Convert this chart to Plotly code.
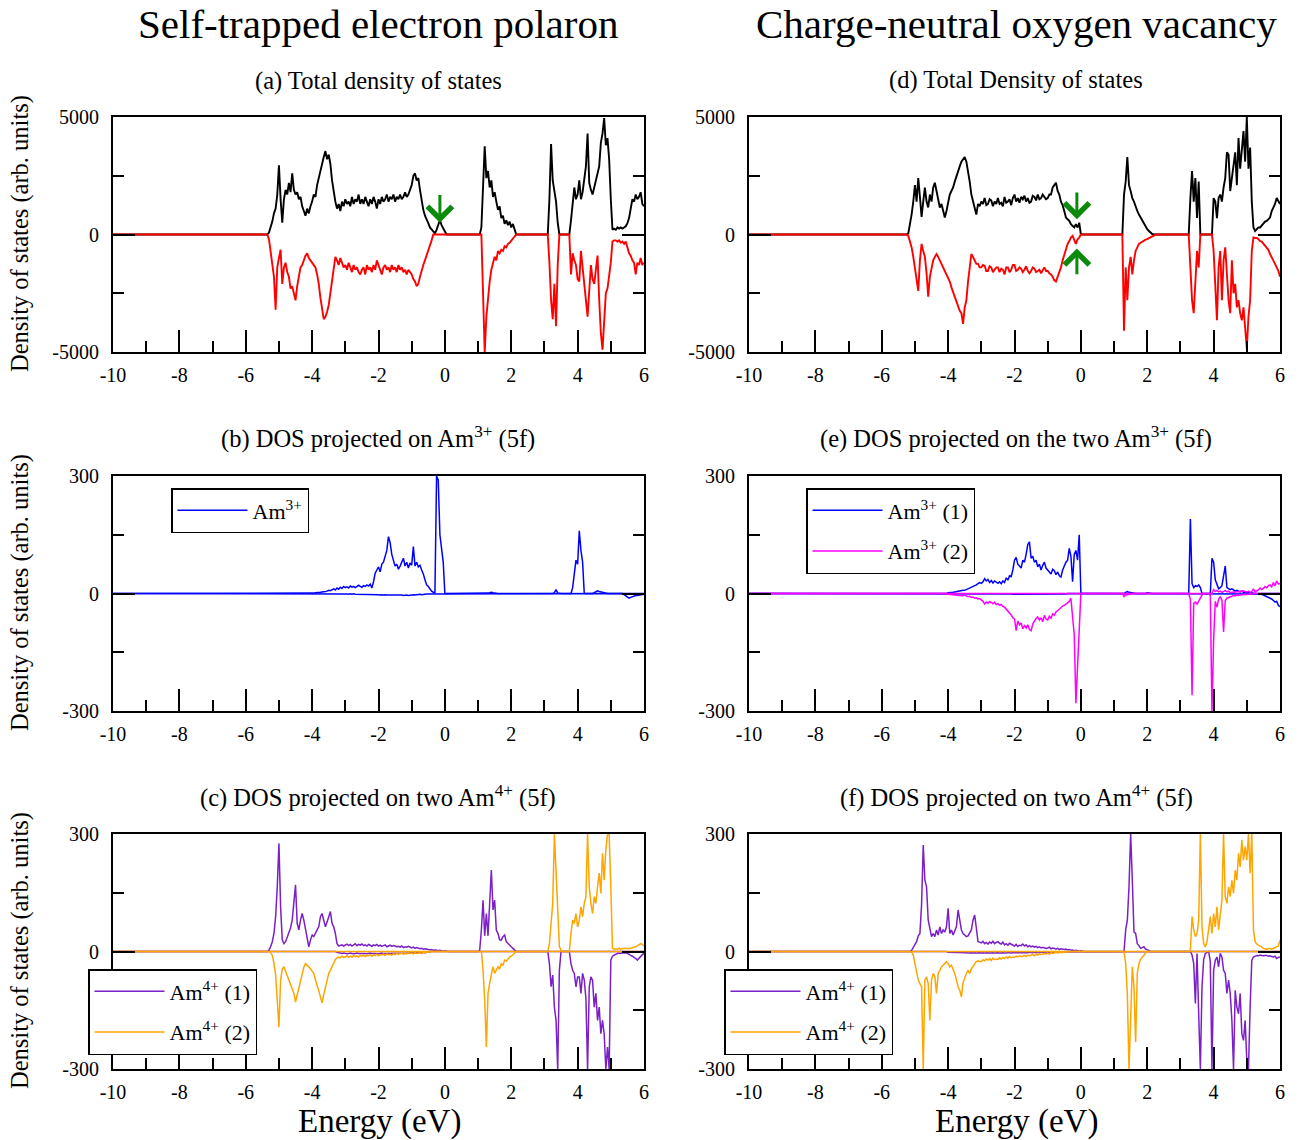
import plotly.graph_objects as go

FONT = "Liberation Serif"

# ---------------- data (energy grid in eV; first point -10 eV baseline) ----------------
ENERGY = [-10.0] + [round(-5.5 + 0.05 * i, 2) for i in range(231)]

X_TICKS = [-10, -8, -6, -4, -2, 0, 2, 4, 6]
X_TICK_TEXT = ["-10", "-8", "-6", "-4", "-2", "0", "2", "4", "6"]
X_MINOR = [-9, -7, -5, -3, -1, 1, 3, 5]
X_TOP = [-9, -8, -7, -6, -5, -4, -3, -2, -1, 0, 1, 2, 3, 4, 5]

TOT_TICKS = [-5000, 0, 5000]
TOT_TICK_TEXT = ["-5000", "0", "5000"]
TOT_MINOR = [-2500, 2500]
PDOS_TICKS = [-300, 0, 300]
PDOS_TICK_TEXT = ["-300", "0", "300"]
PDOS_MINOR = [-150, 150]

# (a) total DOS, self-trapped polaron
TOT_A_UP = [0,
    0, 0, 0, 0, 80, 300, 550, 900, 1100, 1700, 2950, 1500, 500, 1500, 1900, 1700, 2200, 1800, 2600, 1900,
    1700, 1800, 1500, 1600, 1200, 1000, 800, 1100, 900, 1200, 1400, 1700, 1600, 2100, 2400, 2700, 3100, 3300, 3550, 3200,
    3400, 3000, 2300, 1800, 1400, 1100, 1300, 1000, 1400, 1200, 1500, 1300, 1400, 1200, 1600, 1300, 1500, 1400, 1700, 1300,
    1500, 1300, 1600, 1400, 1200, 1500, 1300, 1600, 1400, 1100, 1500, 1300, 1600, 1400, 1500, 1700, 1400, 1600, 1500, 1700,
    1400, 1600, 1500, 1700, 1500, 1600, 1800, 1600, 1700, 1900, 2100, 2500, 2600, 2300, 2400, 1900, 1400, 1050, 800, 600,
    480, 300, 200, 120, 50, 200, 450, 620, 400, 250, 80, 0, 0, 0, 0, 0, 0, 0, 0, 0,
    0, 0, 0, 0, 0, 0, 0, 0, 0, 0, 0, 0, 300, 1800, 3750, 2400, 2700, 2000, 2300, 1600,
    1800, 1400, 1050, 1200, 700, 800, 450, 600, 400, 550, 300, 450, 200, 0, 0, 0, 0, 0, 0, 0,
    0, 0, 0, 0, 0, 0, 0, 0, 0, 0, 0, 0, 0, 1500, 3850, 2300, 1900, 1400, 500, 0,
    0, 0, 0, 0, 0, 0, 600, 1400, 2000, 1500, 1700, 2300, 1500, 1800, 2500, 2900, 4300, 2200, 1900, 1700,
    2000, 2300, 2600, 2900, 3900, 4300, 4950, 3800, 4100, 3200, 1500, 200, 250, 200, 300, 250, 300, 250, 300, 350,
    480, 700, 1100, 1500, 1400, 1700, 1500, 1600, 1800, 1300, 1200]
TOT_A_DN = [0,
    0, 0, 0, 0, -200, -700, -1200, -1800, -3200, -1400, -1000, -650, -2100, -1400, -1200, -1600, -1800, -2300, -2200, -2500,
    -2800, -2200, -1800, -1400, -1300, -1100, -900, -800, -1000, -1100, -1200, -1300, -1400, -1700, -2100, -2700, -3200, -3600, -3500, -3300,
    -3000, -2500, -2100, -1500, -950, -1100, -1300, -1000, -1200, -1400, -1300, -1500, -1200, -1400, -1600, -1300, -1500, -1400, -1600, -1700,
    -1500, -1400, -1700, -1300, -1500, -1400, -1600, -1300, -1500, -1100, -1300, -1500, -1700, -1400, -1300, -1500, -1400, -1600, -1300, -1500,
    -1400, -1600, -1300, -1500, -1400, -1600, -1500, -1700, -1500, -1600, -1700, -1900, -2000, -2200, -2100, -1800, -1500, -1300, -1100, -900,
    -700, -450, -250, 0, 0, 0, 0, 0, 0, 0, 0, 0, 0, 0, 0, 0, 0, 0, 0, 0,
    0, 0, 0, 0, 0, 0, 0, 0, 0, 0, 0, 0, 0, -2500, -5000, -3500, -2700, -2000, -1500, -1200,
    -950, -1100, -700, -800, -650, -700, -500, -550, -400, -350, -250, -200, -100, 0, 0, 0, 0, 0, 0, 0,
    0, 0, 0, 0, 0, 0, 0, 0, 0, 0, 0, 0, 0, -1200, -2800, -3600, -2100, -3900, -1300, 0,
    0, 0, 0, 0, 0, 0, -1700, -800, -1100, -1300, -1900, -2000, -700, -1500, -2200, -2800, -3500, -2600, -1300, -1900,
    -2100, -1500, -900, -2800, -4200, -4900, -3700, -2500, -2300, -1800, -1200, -300, -250, -250, -300, -250, -350, -300, -400, -300,
    -550, -800, -900, -1100, -1200, -1700, -1200, -1300, -1000, -1300, -1200]

# (d) total DOS, neutral oxygen vacancy
TOT_D_UP = [0,
    0, 0, 0, 0, 0, 0, 50, 430, 860, 1400, 2100, 1400, 2400, 1600, 750, 1400, 2000, 1400, 1150, 1700,
    1400, 2000, 2200, 1850, 1400, 1150, 1300, 1000, 720, 1000, 1400, 1700, 1850, 2000, 2250, 2500, 2700, 2900, 3100, 3200,
    3300, 3100, 2700, 2250, 1700, 1400, 1150, 850, 1300, 1200, 1400, 1300, 1550, 1250, 1300, 1500, 1450, 1200, 1400, 1300,
    1550, 1300, 1350, 1200, 1600, 1350, 1400, 1500, 1250, 1550, 1700, 1400, 1550, 1350, 1600, 1500, 1650, 1400, 1550, 1350,
    1400, 1650, 1600, 1450, 1700, 1500, 1550, 1700, 1600, 1500, 1550, 1700, 1700, 2000, 2100, 2200, 1850, 1700, 1400, 1250,
    1000, 720, 650, 580, 440, 360, 300, 440, 300, 500, 0, 0, 0, 0, 0, 0, 0, 0, 0, 0,
    0, 0, 0, 0, 0, 0, 0, 0, 0, 0, 0, 0, 0, 0, 0, 0, 1700, 2250, 3300, 2100,
    1850, 1550, 1400, 1150, 1000, 850, 720, 580, 450, 300, 230, 150, 80, 20, 0, 0, 0, 0, 0, 0,
    0, 0, 0, 0, 0, 0, 0, 0, 0, 0, 0, 0, 0, 0, 0, 0, 1550, 2700, 1400, 2400,
    700, 2250, 0, 0, 0, 0, 0, 0, 0, 0, 1550, 1400, 700, 1550, 1700, 1400, 2000, 2400, 3500, 3400,
    1850, 2400, 2950, 3500, 2100, 4100, 2800, 3500, 4400, 3100, 5000, 2800, 3700, 1400, 300, 150, 220, 300, 300, 400,
    450, 550, 580, 650, 720, 1000, 1150, 1300, 1550, 1400, 1300]
TOT_D_DN = [0,
    0, 0, 0, 0, 0, 0, -50, -280, -550, -950, -1400, -1950, -2400, -1100, -400, -700, -950, -1650, -2650, -1800,
    -1500, -1100, -950, -830, -950, -1100, -1250, -1400, -1500, -1650, -1800, -2000, -2250, -2450, -2650, -2900, -3050, -3250, -3350, -3800,
    -3100, -2800, -2000, -1250, -830, -950, -1100, -1250, -1250, -1400, -1400, -1300, -1330, -1550, -1550, -1350, -1400, -1600, -1500, -1400,
    -1400, -1600, -1450, -1500, -1700, -1400, -1400, -1600, -1500, -1300, -1300, -1550, -1500, -1400, -1450, -1600, -1500, -1350, -1550, -1650,
    -1550, -1400, -1450, -1600, -1550, -1500, -1650, -1500, -1400, -1550, -1550, -1650, -1700, -1800, -1950, -2000, -1800, -1650, -1400, -1100,
    -830, -550, -400, -280, -130, -60, -200, -400, -200, -130, 0, 0, 0, 0, 0, 0, 0, 0, 0, 0,
    0, 0, 0, 0, 0, 0, 0, 0, 0, 0, 0, 0, 0, 0, 0, 0, -4100, -1400, -2800, -1400,
    -950, -1700, -1100, -700, -550, -400, -350, -300, -280, -220, -200, -150, -130, -80, -50, 0, 0, 0, 0, 0,
    0, 0, 0, 0, 0, 0, 0, 0, 0, 0, 0, 0, 0, 0, 0, 0, -1400, -2800, -3350, -2100,
    -700, -1400, 0, 0, 0, 0, 0, 0, 0, 0, -700, -2100, -3650, -1400, -700, -2800, -1100, -550, -1700, -2800,
    -3350, -1100, -2500, -2100, -3100, -2800, -3350, -3650, -3100, -4200, -4850, -3500, -2800, -700, -130, -150, -150, -200, -280, -300,
    -400, -450, -550, -650, -830, -950, -1100, -1250, -1400, -1550, -1800]

# (b) Am3+ 5f, polaron
AM3_B_UP = [0,
    0, 0, 0, 0, 0, 0, 0, 0, 0, 0, 0, 0, 0, 0, 0, 0, 0, 0, 0, 0,
    0, 0, 0, 0, 0, 0, 0, 0, 0, 0, 1, 1, 2, 2, 3, 3, 4, 4, 5, 6,
    8, 7, 10, 12, 9, 14, 11, 16, 13, 18, 15, 17, 14, 19, 16, 18, 15, 17, 21, 18,
    16, 20, 18, 22, 19, 24, 14, 30, 52, 60, 68, 55, 75, 80, 95, 110, 145, 130, 100, 85,
    70, 75, 62, 70, 82, 90, 70, 80, 65, 78, 72, 120, 70, 80, 68, 72, 60, 50, 35, 22,
    18, 10, 6, 3, 2, 300, 290, 150, 120, 80, 0, 0, 0, 0, 0, 0, 0, 0, 0, 0,
    0, 0, 0, 0, 0, 0, 0, 0, 0, 0, 0, 0, 0, 0, 0, 0, 1, 2, 3, 2,
    1, 0, 0, 0, 0, 0, 0, 0, 0, 0, 0, 0, 0, 0, 0, 0, 0, 0, 0, 0,
    0, 0, 0, 0, 0, 0, 0, 0, 0, 0, 0, 0, 0, 0, 0, 0, 2, 10, 1, 0,
    0, 0, 0, 0, 0, 0, 0, 15, 60, 85, 75, 160, 110, 80, 0, 0, 0, 0, 0, 0,
    2, 4, 7, 5, 4, 2, 1, 0, 0, 0, 0, 0, 0, 0, 0, 0, 0, 0, 0, 0,
    0, 0, 0, 0, 0, 0, 0, 0, 0, 0, 0]
AM3_B_DN = [0,
    0, 0, 0, 0, 0, 0, 0, 0, 0, 0, 0, 0, 0, 0, 0, 0, 0, 0, 0, 0,
    0, 0, 0, 0, 0, 0, 0, 0, 0, 0, 0, 0, 0, 0, 0, 0, 0, 0, 0, 0,
    0, 0, -1, 0, -1, -1, 0, -1, -1, -1, -1, -1, -2, -1, -2, -1, -2, -2, -2, -2,
    -2, -2, -3, -2, -3, -2, -3, -3, -3, -3, -3, -4, -3, -4, -3, -4, -4, -3, -4, -4,
    -4, -4, -3, -4, -4, -5, -4, -4, -5, -4, -4, -3, -4, -3, -3, -2, -3, -2, -2, -1,
    -1, -1, 0, 0, 0, 0, 0, 0, 0, 0, 0, 0, 0, 0, 0, 0, 0, 0, 0, 0,
    0, 0, 0, 0, 0, 0, 0, 0, 0, 0, 0, 0, 0, 0, 0, 0, 0, 0, 0, 0,
    0, 0, 0, 0, 0, 0, 0, 0, 0, 0, 0, 0, 0, 0, 0, 0, 0, 0, 0, 0,
    0, 0, 0, 0, 0, 0, 0, 0, 0, 0, 0, 0, 0, 0, 0, 0, 0, 0, 0, 0,
    0, 0, 0, 0, 0, 0, 0, 0, 0, 0, 0, 0, 0, 0, 0, 0, 0, 0, 0, 0,
    0, 0, 0, 0, 0, 0, 0, 0, 0, 0, 0, 0, 0, 0, 0, 0, 0, 0, -3, -6,
    -9, -12, -10, -8, -6, -5, -5, -4, -3, -2, -2]

# (e) two Am3+ 5f, oxygen vacancy
AM3_E1_UP = [0,
    0, 0, 0, 0, 0, 0, 0, 0, 0, 0, 0, 0, 0, 0, 0, 0, 0, 0, 0, 0,
    0, 0, 0, 0, 0, 0, 0, 0, 0, 0, 2, 2, 3, 3, 4, 5, 5, 6, 7, 8,
    8, 10, 12, 14, 15, 17, 18, 22, 25, 28, 26, 30, 38, 32, 36, 28, 33, 27, 32, 29,
    26, 30, 25, 32, 28, 40, 34, 45, 43, 60, 85, 92, 75, 70, 65, 85, 80, 100, 125, 132,
    90, 95, 80, 85, 68, 75, 60, 72, 80, 65, 60, 55, 50, 62, 58, 48, 55, 45, 42, 60,
    70, 80, 85, 115, 95, 30, 100, 110, 85, 150, 0, 0, 0, 0, 0, 0, 0, 0, 0, 0,
    0, 0, 0, 0, 0, 0, 0, 0, 0, 0, 0, 0, 0, 0, 0, 0, 0, 3, 5, 3,
    2, 1, 0, 0, 0, 0, 0, 0, 0, 0, 2, 1, 0, 0, 0, 0, 0, 0, 0, 0,
    0, 0, 0, 0, 0, 0, 0, 0, 0, 0, 0, 0, 0, 0, 0, 0, 190, 25, 15, 20,
    18, 22, 15, 0, 0, 0, 0, 0, 0, 90, 80, 35, 25, 12, 15, 20, 45, 70, 15, 12,
    10, 12, 8, 6, 8, 5, 4, 6, 3, 4, 2, 3, 2, 2, 1, 0, 0, 0, 0, 0,
    0, 0, 0, 0, 0, 0, 0, 0, 0, 0, 0]
AM3_E1_DN = [0,
    0, 0, 0, 0, 0, 0, 0, 0, 0, 0, 0, 0, 0, 0, 0, 0, 0, 0, 0, 0,
    0, 0, 0, 0, 0, 0, 0, 0, 0, 0, 0, 0, 0, 0, 0, 0, 0, 0, 0, 0,
    0, 0, 0, 0, 0, 0, 0, 0, 0, 0, 0, 0, 0, 0, 0, 0, 0, 0, 0, 0,
    0, 0, 0, 0, 0, -1, -1, -1, -1, -2, -2, -2, -2, -2, -2, -2, -2, -2, -2, -2,
    -2, -2, -2, -2, -2, -2, -2, -2, -2, -2, -2, -2, -2, -2, -2, -2, -2, -2, -2, -1,
    -1, -1, 0, 0, 0, 0, 0, 0, 0, 0, 0, 0, 0, 0, 0, 0, 0, 0, 0, 0,
    0, 0, 0, 0, 0, 0, 0, 0, 0, 0, 0, 0, 0, 0, 0, 0, 0, 0, 0, 0,
    0, 0, 0, 0, 0, 0, 0, 0, 0, 0, 0, 0, 0, 0, 0, 0, 0, 0, 0, 0,
    0, 0, 0, 0, 0, 0, 0, 0, 0, 0, 0, 0, 0, 0, 0, 0, 0, 0, 0, 0,
    0, 0, 0, 0, 0, 0, 0, 0, 0, 0, 0, 0, 0, 0, 0, 0, 0, 0, 0, 0,
    0, 0, 0, 0, 0, 0, 0, 0, 0, 0, 0, 0, 0, 0, 0, 0, 0, 0, -1, -2,
    -4, -5, -6, -8, -10, -14, -18, -22, -20, -30, -34]
AM3_E2_DN = [0,
    0, 0, 0, 0, 0, 0, 0, 0, 0, 0, 0, 0, 0, 0, 0, 0, 0, 0, 0, 0,
    0, 0, 0, 0, 0, 0, 0, 0, 0, 0, -2, -2, -3, -3, -4, -4, -5, -5, -6, -6,
    -4, -6, -8, -7, -10, -9, -12, -11, -14, -13, -16, -20, -27, -22, -25, -21, -23, -26, -22, -28,
    -26, -30, -28, -33, -35, -40, -45, -48, -55, -62, -65, -95, -70, -80, -75, -90, -82, -88, -80, -92,
    -95, -78, -70, -64, -60, -68, -62, -72, -56, -65, -68, -58, -63, -52, -55, -47, -44, -40, -34, -32,
    -30, -28, -24, -20, -12, -60, -105, -280, -170, -60, 0, 0, 0, 0, 0, 0, 0, 0, 0, 0,
    0, 0, 0, 0, 0, 0, 0, 0, 0, 0, 0, 0, 0, 0, 0, 0, -8, -4, -3, -2,
    -1, 0, 0, 0, 0, 0, 0, 0, 0, 0, 0, 0, 0, 0, 0, 0, 0, 0, 0, 0,
    0, 0, 0, 0, 0, 0, 0, 0, 0, 0, 0, 0, 0, 0, 0, 0, -15, -260, -25, -22,
    -27, -18, -10, -4, 0, 0, 0, 0, -5, -300, -120, -20, -35, -15, -8, -17, -98, -18, -12, -10,
    -8, -7, -5, -6, -4, -5, -3, -4, -2, -3, -2, -2, -1, -1, 0, 0, 0, 0, 0, 0,
    0, 0, 0, 0, 0, 0, 0, 0, 0, 0, 0]
AM3_E2_UP = [0,
    0, 0, 0, 0, 0, 0, 0, 0, 0, 0, 0, 0, 0, 0, 0, 0, 0, 0, 0, 0,
    0, 0, 0, 0, 0, 0, 0, 0, 0, 0, 0, 0, 0, 0, 0, 0, 0, 0, 0, 0,
    0, 0, 0, 0, 0, 0, 0, 0, 0, 0, 0, 0, 0, 0, 0, 0, 0, 0, 0, 0,
    0, 0, 0, 0, 0, 0, 0, 0, 0, 0, 0, 0, 0, 0, 0, 0, 0, 0, 0, 0,
    0, 0, 0, 0, 0, 0, 0, 0, 0, 0, 0, 0, 0, 0, 0, 0, 0, 0, 0, 0,
    0, 0, 0, 0, 0, 0, 0, 0, 0, 0, 0, 0, 0, 0, 0, 0, 0, 0, 0, 0,
    0, 0, 0, 0, 0, 0, 0, 0, 0, 0, 0, 0, 0, 0, 0, 0, 0, 0, 0, 0,
    0, 0, 0, 0, 0, 0, 0, 0, 0, 0, 0, 0, 0, 0, 0, 0, 0, 0, 0, 0,
    0, 0, 0, 0, 0, 0, 0, 0, 0, 0, 0, 0, 0, 0, 0, 0, 0, 0, 0, 0,
    0, 0, 0, 0, 0, 0, 0, 0, 0, 0, 10, 5, 8, 4, 6, 3, 5, 8, 4, 6,
    2, 3, 4, 3, 5, 4, 6, 5, 7, 5, 4, 6, 3, 5, 12, 4, 6, 9, 14, 10,
    13, 18, 15, 20, 22, 17, 28, 20, 32, 24, 26]

# (c) two Am4+ 5f, polaron
AM4_C1_UP = [0,
    0, 0, 0, 0, 4, 12, 25, 46, 89, 165, 276, 114, 30, 20, 25, 35, 46, 60, 80, 123,
    170, 72, 55, 80, 97, 80, 55, 38, 12, 29, 42, 38, 45, 55, 63, 89, 97, 80, 63, 75,
    89, 102, 72, 63, 46, 20, 14, 15, 17, 14, 16, 19, 15, 18, 14, 17, 20, 15, 18, 16,
    19, 15, 17, 14, 18, 16, 13, 17, 15, 18, 14, 16, 13, 15, 17, 12, 14, 16, 13, 15,
    14, 12, 13, 11, 14, 10, 12, 11, 13, 10, 9, 11, 8, 10, 9, 7, 8, 6, 7, 5,
    5, 4, 5, 3, 4, 3, 2, 3, 2, 1, 2, 0, 0, 0, 0, 0, 0, 0, 0, 0,
    0, 0, 0, 0, 0, 0, 0, 0, 0, 0, 0, 4, 55, 131, 40, 97, 40, 123, 208, 106,
    131, 55, 46, 30, 29, 38, 42, 25, 20, 15, 12, 8, 4, 0, 0, 0, 0, 0, 0, 0,
    0, 0, 0, 0, 0, 0, 0, 0, 0, 0, 0, 0, 0, 0, 0, 0, 0, 0, 0, 0,
    0, 0, 0, 0, 0, 0, 0, 0, 0, 0, 0, 0, 0, 0, 0, 0, 0, 0, 0, 0,
    0, 0, 0, 0, 0, 0, 0, 0, 0, 0, 0, 0, 0, 0, 0, 0, 0, 0, 0, 0,
    0, 0, 0, 0, 0, 0, 0, 0, 0, 0, 0]
AM4_C1_DN = [0,
    0, 0, 0, 0, 0, 0, 0, 0, 0, 0, 0, 0, 0, 0, 0, 0, 0, 0, 0, 0,
    0, 0, 0, 0, 0, 0, 0, 0, 0, 0, 0, 0, 0, 0, 0, 0, 0, 0, 0, 0,
    0, 0, 0, 0, 0, -2, -3, -4, -5, -4, -5, -6, -5, -4, -5, -6, -5, -4, -5, -5,
    -5, -4, -5, -6, -5, -4, -5, -5, -4, -5, -6, -5, -4, -5, -5, -4, -5, -4, -5, -4,
    -5, -4, -4, -5, -4, -4, -5, -4, -3, -4, -4, -3, -4, -3, -3, -4, -3, -2, -3, -2,
    -2, -1, 0, 0, 0, 0, 0, 0, 0, 0, 0, 0, 0, 0, 0, 0, 0, 0, 0, 0,
    0, 0, 0, 0, 0, 0, 0, 0, 0, 0, 0, 0, 0, 0, 0, 0, 0, 0, 0, 0,
    0, 0, 0, 0, 0, 0, 0, 0, 0, 0, 0, 0, 0, 0, 0, 0, 0, 0, 0, 0,
    0, 0, 0, 0, 0, 0, 0, 0, 0, 0, 0, 0, 0, -31, -90, -60, -142, -176, -300, -48,
    0, 0, 0, 0, 0, 0, -31, -48, -56, -90, -65, -65, -107, -56, -73, -120, -300, -90, -65, -73,
    -142, -107, -176, -142, -210, -176, -210, -300, -244, -300, -22, -12, -9, -6, -5, -4, -5, -3, -4, -3,
    -6, -8, -10, -12, -14, -18, -22, -17, -14, -8, -5]
AM4_C2_DN = [0,
    0, 0, 0, 0, 0, -3, -10, -30, -60, -125, -193, -73, -45, -39, -50, -65, -75, -85, -95, -107,
    -129, -110, -90, -73, -56, -40, -31, -35, -39, -44, -50, -56, -73, -85, -100, -116, -131, -110, -90, -73,
    -56, -48, -39, -28, -20, -16, -14, -16, -12, -15, -14, -11, -15, -12, -14, -10, -13, -11, -14, -10,
    -12, -9, -13, -10, -11, -8, -12, -9, -10, -7, -11, -8, -9, -7, -10, -6, -8, -7, -9, -6,
    -8, -5, -7, -6, -4, -7, -5, -6, -3, -5, -4, -6, -3, -5, -4, -3, -5, -2, -3, -2,
    -1, 0, 0, 0, 0, 0, 0, 0, 0, 0, 0, 0, 0, 0, 0, 0, 0, 0, 0, 0,
    0, 0, 0, 0, 0, 0, 0, 0, 0, 0, 0, 0, 0, -48, -125, -244, -107, -80, -56, -39,
    -56, -48, -39, -45, -31, -35, -22, -25, -18, -14, -12, -8, -3, 0, 0, 0, 0, 0, 0, 0,
    0, 0, 0, 0, 0, 0, 0, 0, 0, 0, 0, 0, 0, 0, 0, 0, 0, 0, 0, 0,
    0, 0, 0, 0, 0, 0, 0, 0, 0, 0, 0, 0, 0, 0, 0, 0, 0, 0, 0, 0,
    0, 0, 0, 0, 0, 0, 0, 0, 0, 0, 0, 0, 0, 0, 0, 0, 0, 0, 0, 0,
    0, 0, 0, 0, 0, 0, 0, 0, 0, 0, 0]
AM4_C2_UP = [0,
    0, 0, 0, 0, 0, 0, 0, 0, 0, 0, 0, 0, 0, 0, 0, 0, 0, 0, 0, 0,
    0, 0, 0, 0, 0, 0, 0, 0, 0, 0, 0, 0, 0, 0, 0, 0, 0, 0, 0, 0,
    0, 0, 0, 0, 0, 0, 0, 0, 0, 0, 0, 0, 0, 0, 0, 0, 0, 0, 0, 0,
    0, 0, 0, 0, 0, 0, 0, 0, 0, 0, 0, 0, 0, 0, 0, 0, 0, 0, 0, 0,
    0, 0, 0, 0, 0, 0, 0, 0, 0, 0, 0, 0, 0, 0, 0, 0, 0, 0, 0, 0,
    0, 0, 0, 0, 0, 0, 0, 0, 0, 0, 0, 0, 0, 0, 0, 0, 0, 0, 0, 0,
    0, 0, 0, 0, 0, 0, 0, 0, 0, 0, 0, 0, 0, 0, 0, 0, 0, 0, 0, 0,
    0, 0, 0, 0, 0, 0, 0, 0, 0, 0, 0, 0, 0, 0, 0, 0, 0, 0, 0, 0,
    0, 0, 0, 0, 0, 0, 0, 0, 0, 0, 0, 0, 0, 20, 63, 123, 300, 208, 97, 12,
    4, 0, 0, 0, 0, 0, 46, 80, 72, 97, 63, 80, 114, 89, 123, 140, 300, 165, 123, 97,
    140, 123, 165, 200, 148, 251, 182, 259, 300, 300, 165, 8, 6, 7, 6, 8, 6, 7, 8, 7,
    8, 7, 9, 10, 11, 12, 14, 16, 20, 18, 15]

# (f) two Am4+ 5f, oxygen vacancy
AM4_F1_UP = [0,
    0, 0, 0, 0, 0, 0, 0, 0, 3, 10, 18, 25, 40, 46, 120, 272, 182, 165, 80, 55,
    38, 46, 38, 55, 42, 63, 46, 55, 50, 63, 110, 46, 55, 42, 55, 63, 106, 80, 55, 46,
    42, 38, 40, 46, 55, 80, 93, 60, 25, 24, 22, 26, 20, 23, 19, 24, 21, 26, 20, 23,
    25, 21, 19, 24, 17, 20, 16, 21, 18, 15, 14, 18, 13, 16, 15, 19, 14, 17, 12, 15,
    12, 14, 11, 13, 10, 12, 9, 11, 10, 8, 9, 11, 7, 9, 8, 6, 8, 5, 7, 6,
    5, 6, 4, 5, 3, 4, 2, 3, 2, 1, 2, 0, 0, 0, 0, 0, 0, 0, 0, 0,
    0, 0, 0, 0, 0, 0, 0, 0, 0, 0, 0, 0, 0, 0, 0, 0, 0, 55, 80, 165,
    300, 182, 50, 46, 20, 15, 8, 10, 12, 6, 5, 3, 0, 0, 0, 0, 0, 0, 0, 0,
    0, 0, 0, 0, 0, 0, 0, 0, 0, 0, 0, 0, 0, 0, 0, 0, 0, 0, 0, 0,
    0, 0, 0, 0, 0, 0, 0, 0, 0, 0, 0, 0, 0, 0, 0, 0, 0, 0, 0, 0,
    0, 0, 0, 0, 0, 0, 0, 0, 0, 0, 0, 0, 0, 0, 0, 0, 0, 0, 0, 0,
    0, 0, 0, 0, 0, 0, 0, 0, 0, 0, 0]
AM4_F1_DN = [0,
    0, 0, 0, 0, 0, 0, 0, 0, 0, 0, 0, 0, 0, 0, 0, 0, 0, 0, 0, 0,
    0, 0, 0, 0, 0, 0, 0, 0, 0, 0, -2, -2, -3, -2, -3, -3, -2, -3, -3, -3,
    -3, -3, -4, -3, -3, -4, -3, -4, -3, -3, -4, -3, -4, -3, -3, -4, -3, -3, -4, -3,
    -3, -4, -3, -3, -4, -3, -3, -3, -4, -3, -3, -3, -3, -4, -3, -3, -3, -3, -3, -2,
    -3, -3, -2, -3, -2, -3, -2, -2, -3, -2, -2, -2, -2, -2, -2, -2, -1, -2, -1, -1,
    -1, 0, 0, 0, 0, 0, 0, 0, 0, 0, 0, 0, 0, 0, 0, 0, 0, 0, 0, 0,
    0, 0, 0, 0, 0, 0, 0, 0, 0, 0, 0, 0, 0, 0, 0, 0, 0, 0, 0, 0,
    0, 0, 0, 0, 0, 0, 0, 0, 0, 0, 0, 0, 0, 0, 0, 0, 0, 0, 0, 0,
    0, 0, 0, 0, 0, 0, 0, 0, 0, 0, 0, 0, 0, 0, 0, 0, 0, -9, -31, -133,
    -5, -159, -300, -90, -20, -5, -3, 0, -26, -300, -48, -22, -14, -39, -5, -14, -48, -56, -107, -73,
    -107, -176, -300, -99, -142, -159, -107, -210, -227, -176, -278, -300, -142, -22, -14, -12, -10, -11, -9, -10,
    -11, -10, -10, -12, -11, -13, -14, -12, -18, -15, -14]
AM4_F2_DN = [0,
    0, 0, 0, 0, 0, 0, 0, 0, -2, -9, -31, -56, -73, -82, -90, -300, -73, -65, -82, -176,
    -73, -56, -65, -107, -56, -48, -39, -35, -31, -26, -31, -39, -35, -44, -56, -73, -90, -99, -116, -80,
    -65, -56, -48, -56, -44, -39, -31, -26, -24, -25, -26, -21, -24, -19, -22, -18, -23, -17, -21, -19,
    -20, -16, -19, -15, -18, -14, -17, -13, -16, -15, -15, -12, -14, -11, -13, -12, -10, -13, -9, -11,
    -10, -8, -11, -7, -9, -6, -8, -7, -5, -6, -4, -7, -3, -5, -4, -2, -4, -3, -2, -3,
    -1, -2, -1, 0, 0, 0, 0, 0, 0, 0, 0, 0, 0, 0, 0, 0, 0, 0, 0, 0,
    0, 0, 0, 0, 0, 0, 0, 0, 0, 0, 0, 0, 0, 0, 0, 0, 0, -31, -107, -300,
    -150, -39, -90, -231, -56, -31, -20, -14, -8, -4, 0, 0, 0, 0, 0, 0, 0, 0, 0, 0,
    0, 0, 0, 0, 0, 0, 0, 0, 0, 0, 0, 0, 0, 0, 0, 0, 0, 0, 0, 0,
    0, 0, 0, 0, 0, 0, 0, 0, 0, 0, 0, 0, 0, 0, 0, 0, 0, 0, 0, 0,
    0, 0, 0, 0, 0, 0, 0, 0, 0, 0, 0, 0, 0, 0, 0, 0, 0, 0, 0, 0,
    0, 0, 0, 0, 0, 0, 0, 0, 0, 0, 0]
AM4_F2_UP = [0,
    0, 0, 0, 0, 0, 0, 0, 0, 0, 0, 0, 0, 0, 0, 0, 0, 0, 0, 0, 0,
    0, 0, 0, 0, 0, 0, 0, 0, 0, 0, 0, 0, 0, 0, 0, 0, 0, 0, 0, 0,
    0, 0, 0, 0, 0, 0, 0, 0, 0, 0, 0, 0, 0, 0, 0, 0, 0, 0, 0, 0,
    0, 0, 0, 0, 0, 0, 0, 0, 0, 0, 0, 0, 0, 0, 0, 0, 0, 0, 0, 0,
    0, 0, 0, 0, 0, 0, 0, 0, 0, 0, 0, 0, 0, 0, 0, 0, 0, 0, 0, 0,
    0, 0, 0, 0, 0, 0, 0, 0, 0, 0, 0, 0, 0, 0, 0, 0, 0, 0, 0, 0,
    0, 0, 0, 0, 0, 0, 0, 0, 0, 0, 0, 0, 0, 0, 0, 0, 0, 0, 0, 0,
    0, 0, 0, 0, 0, 0, 0, 0, 0, 0, 0, 0, 0, 0, 0, 0, 0, 0, 0, 0,
    0, 0, 0, 0, 0, 0, 0, 0, 0, 0, 0, 0, 0, 0, 0, 0, 4, 89, 55, 38,
    46, 80, 300, 63, 20, 12, 25, 63, 89, 46, 97, 63, 114, 55, 97, 131, 300, 140, 123, 165,
    140, 182, 148, 208, 182, 251, 216, 285, 233, 268, 233, 300, 200, 300, 55, 25, 19, 16, 12, 10,
    8, 7, 6, 7, 8, 6, 8, 9, 12, 14, 29]

# arrows marking the gap states (energy, head value, tail value)
ARROWS_A = [(-0.15, 500, 1750)]
ARROWS_D = [(-0.12, 650, 1850), (-0.12, -600, -1750)]

# ---------------- styling ----------------
W, H = 1301, 1140
BLACK, RED, BLUE, MAGENTA, PURPLE, ORANGE = "#000000", "#ff0000", "#0000ff", "#ff00ff", "#7b1fc8", "#ffa500"
GREEN = "#0b8a0b"

COL_X = [(113 / W, 644 / W), (749 / W, 1280 / W)]
ROW_Y = [(1 - 352 / H, 1 - 117 / H), (1 - 711 / H, 1 - 476 / H), (1 - 1069 / H, 1 - 834 / H)]

fig = go.Figure()


def add(ax, yvals, color, width, name=None, legend=None, show=False, group=None):
    xa, ya = ax
    fig.add_trace(go.Scatter(
        x=ENERGY, y=yvals, mode="lines", xaxis=xa, yaxis=ya,
        line=dict(color=color, width=width), name=name or "",
        legend=legend or "legend", showlegend=show, legendgroup=group,
        hoverinfo="skip"))


TW, PW = 1.9, 1.5
# (a)
add(("x", "y"), TOT_A_UP, BLACK, TW)
add(("x", "y"), TOT_A_DN, RED, TW)
# (d)
add(("x2", "y2"), TOT_D_UP, BLACK, TW)
add(("x2", "y2"), TOT_D_DN, RED, TW)
# (b)
add(("x3", "y3"), AM3_B_UP, BLUE, PW, "Am<sup>3+</sup>", "legend", True, "b1")
add(("x3", "y3"), AM3_B_DN, BLUE, PW, "Am<sup>3+</sup>", "legend", False, "b1")
# (e)
add(("x4", "y4"), AM3_E1_UP, BLUE, PW, "Am<sup>3+</sup> (1)", "legend2", True, "e1")
add(("x4", "y4"), AM3_E1_DN, BLUE, PW, "Am<sup>3+</sup> (1)", "legend2", False, "e1")
add(("x4", "y4"), AM3_E2_DN, MAGENTA, PW, "Am<sup>3+</sup> (2)", "legend2", True, "e2")
add(("x4", "y4"), AM3_E2_UP, MAGENTA, PW, "Am<sup>3+</sup> (2)", "legend2", False, "e2")
# (c)
add(("x5", "y5"), AM4_C1_UP, PURPLE, PW, "Am<sup>4+</sup> (1)", "legend3", True, "c1")
add(("x5", "y5"), AM4_C1_DN, PURPLE, PW, "Am<sup>4+</sup> (1)", "legend3", False, "c1")
add(("x5", "y5"), AM4_C2_DN, ORANGE, PW, "Am<sup>4+</sup> (2)", "legend3", True, "c2")
add(("x5", "y5"), AM4_C2_UP, ORANGE, PW, "Am<sup>4+</sup> (2)", "legend3", False, "c2")
# (f)
add(("x6", "y6"), AM4_F1_UP, PURPLE, PW, "Am<sup>4+</sup> (1)", "legend4", True, "f1")
add(("x6", "y6"), AM4_F1_DN, PURPLE, PW, "Am<sup>4+</sup> (1)", "legend4", False, "f1")
add(("x6", "y6"), AM4_F2_DN, ORANGE, PW, "Am<sup>4+</sup> (2)", "legend4", True, "f2")
add(("x6", "y6"), AM4_F2_UP, ORANGE, PW, "Am<sup>4+</sup> (2)", "legend4", False, "f2")

tickfont = dict(family=FONT, size=20, color="black")
layout = dict(
    width=W, height=H, margin=dict(l=0, r=0, t=0, b=0, pad=0, autoexpand=False),
    paper_bgcolor="white", plot_bgcolor="white", showlegend=True,
    font=dict(family=FONT, color="black"),
)

panels = [  # (axis index, column, row, total?)
    (1, 0, 0, True), (2, 1, 0, True), (3, 0, 1, False), (4, 1, 1, False), (5, 0, 2, False), (6, 1, 2, False)]
for idx, col, row, tot in panels:
    sfx = "" if idx == 1 else str(idx)
    layout["xaxis" + sfx] = dict(
        domain=COL_X[col], anchor="y" + sfx, range=[-10, 6], automargin=False,
        tickmode="array", tickvals=X_TICKS, ticktext=X_TICK_TEXT,
        ticks="inside", ticklen=22, tickwidth=1.5, tickcolor="black",
        minor=dict(tickmode="array", tickvals=X_MINOR, ticks="inside", ticklen=11, tickwidth=1.5, tickcolor="black"),
        showline=True, linewidth=2, linecolor="black", mirror=True,
        showgrid=False, zeroline=False, tickfont=tickfont, ticklabelstandoff=4)
    layout["yaxis" + sfx] = dict(
        domain=ROW_Y[row], anchor="x" + sfx, range=[-5000, 5000] if tot else [-300, 300], automargin=False,
        tickmode="array", tickvals=TOT_TICKS if tot else PDOS_TICKS,
        ticktext=TOT_TICK_TEXT if tot else PDOS_TICK_TEXT,
        ticks="inside", ticklen=22, tickwidth=1.5, tickcolor="black",
        minor=dict(tickmode="array", tickvals=TOT_MINOR if tot else PDOS_MINOR, ticks="inside",
                   ticklen=11, tickwidth=1.5, tickcolor="black"),
        showline=True, linewidth=2, linecolor="black", mirror="ticks",
        showgrid=False, zeroline=False, tickfont=tickfont, ticklabelstandoff=8)
    # top axis: short ticks every 1 eV
    layout["xaxis" + str(idx + 6)] = dict(
        overlaying="x" + sfx, anchor="y" + sfx, side="top", range=[-10, 6], automargin=False,
        tickmode="array", tickvals=X_TOP, ticks="inside", ticklen=11, tickwidth=1.5, tickcolor="black",
        showticklabels=False, showline=False, showgrid=False, zeroline=False)

leg_common = dict(xanchor="left", yanchor="top", bgcolor="white", bordercolor="black", borderwidth=1.5,
                  font=dict(family=FONT, size=22, color="black"), tracegroupgap=9, itemwidth=70)
layout["legend"] = dict(x=171 / W, y=1 - 488 / H, **leg_common)
layout["legend2"] = dict(x=806 / W, y=1 - 488 / H, **leg_common)
layout["legend3"] = dict(x=88 / W, y=1 - 969 / H, **leg_common)
layout["legend4"] = dict(x=724 / W, y=1 - 969 / H, **leg_common)

ann = []


def text(x, y, s, size, angle=0):
    ann.append(dict(x=x / W, y=1 - y / H, xref="paper", yref="paper", text=s, showarrow=False,
                    font=dict(family=FONT, size=size, color="black"), textangle=angle,
                    xanchor="center", yanchor="middle"))


text(378, 24, "Self-trapped electron polaron", 41)
text(1016, 24, "Charge-neutral oxygen vacancy", 41)
text(378, 81, "(a) Total density of states", 24.5)
text(1016, 80, "(d) Total Density of states", 24.5)
text(378, 438, "(b) DOS projected on Am<sup>3+</sup> (5f)", 24.5)
text(1016, 438, "(e) DOS projected on the two Am<sup>3+</sup> (5f)", 24.5)
text(378, 796, "(c) DOS projected on two Am<sup>4+</sup> (5f)", 24.5)
text(1016, 796, "(f) DOS projected on two Am<sup>4+</sup> (5f)", 24.5)
text(379, 1121, "Energy (eV)", 33)
text(1016, 1121, "Energy (eV)", 33)
for yc in (234, 593, 951):
    text(20, yc, "Density of states (arb. units)", 24.5, -90)

for (xa, ya), arrows in ((("x", "y"), ARROWS_A), (("x2", "y2"), ARROWS_D)):
    for e, head, tail in arrows:
        ann.append(dict(x=e, y=head, ax=e, ay=tail, xref=xa, yref=ya, axref=xa, ayref=ya,
                        showarrow=True, arrowhead=4, arrowsize=1.6, arrowwidth=3,
                        arrowcolor=GREEN, standoff=0, text=""))

layout["annotations"] = ann
fig.update_layout(**layout)
fig.write_html("out.html")
